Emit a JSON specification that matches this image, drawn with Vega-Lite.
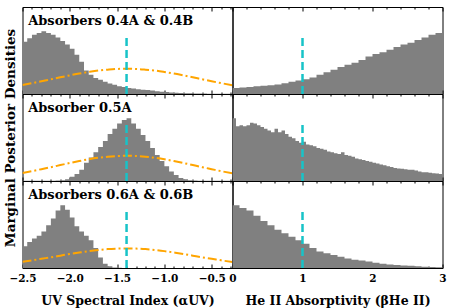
{
  "$schema": "https://vega.github.io/schema/vega-lite/v6.json",
  "padding": {"left": 2.5, "top": 6, "right": 0, "bottom": 0},
  "background": "white",
  "config": {
    "view": {"stroke": "#000000", "strokeWidth": 1},
    "axis": {"labelFont": "DejaVu Serif", "labelFontWeight": "bold", "labelFontSize": 10.5, "labelColor": "#000", "titleFont": "DejaVu Serif", "titleFontWeight": "bold", "titleFontSize": 12.5, "titleColor": "#000", "tickColor": "#000", "grid": false, "domain": false}
  },
  "datasets": {
    "hist": [
      {"p":"1L","x":-2.5,"y":0.60},{"p":"1L","x":-2.45,"y":0.64},{"p":"1L","x":-2.4,"y":0.68},{"p":"1L","x":-2.35,"y":0.70},{"p":"1L","x":-2.3,"y":0.72},{"p":"1L","x":-2.25,"y":0.70},{"p":"1L","x":-2.2,"y":0.68},{"p":"1L","x":-2.15,"y":0.65},{"p":"1L","x":-2.1,"y":0.61},{"p":"1L","x":-2.05,"y":0.57},{"p":"1L","x":-2.0,"y":0.52},{"p":"1L","x":-1.95,"y":0.45},{"p":"1L","x":-1.9,"y":0.37},{"p":"1L","x":-1.85,"y":0.27},{"p":"1L","x":-1.8,"y":0.22},{"p":"1L","x":-1.75,"y":0.185},{"p":"1L","x":-1.7,"y":0.165},{"p":"1L","x":-1.65,"y":0.14},{"p":"1L","x":-1.6,"y":0.12},{"p":"1L","x":-1.55,"y":0.105},{"p":"1L","x":-1.5,"y":0.09},{"p":"1L","x":-1.45,"y":0.08},{"p":"1L","x":-1.4,"y":0.07},{"p":"1L","x":-1.35,"y":0.062},{"p":"1L","x":-1.3,"y":0.055},{"p":"1L","x":-1.25,"y":0.05},{"p":"1L","x":-1.2,"y":0.045},{"p":"1L","x":-1.15,"y":0.04},{"p":"1L","x":-1.1,"y":0.033},{"p":"1L","x":-1.05,"y":0.027},{"p":"1L","x":-1.0,"y":0.022},{"p":"1L","x":-0.95,"y":0.018},{"p":"1L","x":-0.9,"y":0.015},{"p":"1L","x":-0.85,"y":0.012},{"p":"1L","x":-0.8,"y":0.01},{"p":"1L","x":-0.75,"y":0.008},{"p":"1L","x":-0.7,"y":0.007},{"p":"1L","x":-0.65,"y":0.006},{"p":"1L","x":-0.6,"y":0.005},{"p":"1L","x":-0.55,"y":0.004},{"p":"1L","x":-0.5,"y":0.004},{"p":"1L","x":-0.45,"y":0.003},{"p":"1L","x":-0.4,"y":0.003},{"p":"1L","x":-0.35,"y":0.002},{"p":"1L","x":-0.3,"y":0.002},{"p":"1L","x":-0.28,"y":0.002},
      {"p":"2L","x":-2.5,"y":0.002},{"p":"2L","x":-2.45,"y":0.002},{"p":"2L","x":-2.4,"y":0.002},{"p":"2L","x":-2.35,"y":0.003},{"p":"2L","x":-2.3,"y":0.003},{"p":"2L","x":-2.25,"y":0.003},{"p":"2L","x":-2.2,"y":0.004},{"p":"2L","x":-2.15,"y":0.005},{"p":"2L","x":-2.1,"y":0.008},{"p":"2L","x":-2.05,"y":0.02},{"p":"2L","x":-2.0,"y":0.05},{"p":"2L","x":-1.95,"y":0.08},{"p":"2L","x":-1.9,"y":0.13},{"p":"2L","x":-1.85,"y":0.21},{"p":"2L","x":-1.8,"y":0.27},{"p":"2L","x":-1.75,"y":0.33},{"p":"2L","x":-1.7,"y":0.39},{"p":"2L","x":-1.65,"y":0.46},{"p":"2L","x":-1.6,"y":0.54},{"p":"2L","x":-1.55,"y":0.60},{"p":"2L","x":-1.5,"y":0.66},{"p":"2L","x":-1.45,"y":0.70},{"p":"2L","x":-1.4,"y":0.72},{"p":"2L","x":-1.35,"y":0.66},{"p":"2L","x":-1.3,"y":0.60},{"p":"2L","x":-1.25,"y":0.53},{"p":"2L","x":-1.2,"y":0.46},{"p":"2L","x":-1.15,"y":0.38},{"p":"2L","x":-1.1,"y":0.30},{"p":"2L","x":-1.05,"y":0.23},{"p":"2L","x":-1.0,"y":0.17},{"p":"2L","x":-0.95,"y":0.11},{"p":"2L","x":-0.9,"y":0.07},{"p":"2L","x":-0.85,"y":0.035},{"p":"2L","x":-0.8,"y":0.02},{"p":"2L","x":-0.75,"y":0.01},{"p":"2L","x":-0.7,"y":0.006},{"p":"2L","x":-0.65,"y":0.004},{"p":"2L","x":-0.6,"y":0.003},{"p":"2L","x":-0.5,"y":0.002},{"p":"2L","x":-0.28,"y":0.002},
      {"p":"3L","x":-2.5,"y":0.25},{"p":"3L","x":-2.45,"y":0.30},{"p":"3L","x":-2.4,"y":0.34},{"p":"3L","x":-2.35,"y":0.37},{"p":"3L","x":-2.3,"y":0.42},{"p":"3L","x":-2.25,"y":0.49},{"p":"3L","x":-2.2,"y":0.57},{"p":"3L","x":-2.15,"y":0.66},{"p":"3L","x":-2.1,"y":0.72},{"p":"3L","x":-2.05,"y":0.67},{"p":"3L","x":-2.0,"y":0.58},{"p":"3L","x":-1.95,"y":0.48},{"p":"3L","x":-1.9,"y":0.42},{"p":"3L","x":-1.85,"y":0.37},{"p":"3L","x":-1.8,"y":0.32},{"p":"3L","x":-1.75,"y":0.23},{"p":"3L","x":-1.7,"y":0.12},{"p":"3L","x":-1.65,"y":0.05},{"p":"3L","x":-1.6,"y":0.02},{"p":"3L","x":-1.55,"y":0.006},{"p":"3L","x":-1.5,"y":0.002},{"p":"3L","x":-1.45,"y":0.001},{"p":"3L","x":-1.4,"y":0},{"p":"3L","x":-0.28,"y":0},
      {"p":"1R","x":0,"y":0.07},{"p":"1R","x":0.1,"y":0.075},{"p":"1R","x":0.2,"y":0.08},{"p":"1R","x":0.3,"y":0.09},{"p":"1R","x":0.4,"y":0.095},{"p":"1R","x":0.5,"y":0.10},{"p":"1R","x":0.6,"y":0.11},{"p":"1R","x":0.7,"y":0.125},{"p":"1R","x":0.8,"y":0.14},{"p":"1R","x":0.9,"y":0.155},{"p":"1R","x":1.0,"y":0.17},{"p":"1R","x":1.1,"y":0.19},{"p":"1R","x":1.2,"y":0.22},{"p":"1R","x":1.3,"y":0.25},{"p":"1R","x":1.4,"y":0.28},{"p":"1R","x":1.5,"y":0.31},{"p":"1R","x":1.6,"y":0.335},{"p":"1R","x":1.7,"y":0.36},{"p":"1R","x":1.8,"y":0.39},{"p":"1R","x":1.9,"y":0.43},{"p":"1R","x":2.0,"y":0.46},{"p":"1R","x":2.1,"y":0.48},{"p":"1R","x":2.2,"y":0.51},{"p":"1R","x":2.3,"y":0.54},{"p":"1R","x":2.4,"y":0.57},{"p":"1R","x":2.5,"y":0.59},{"p":"1R","x":2.6,"y":0.62},{"p":"1R","x":2.7,"y":0.65},{"p":"1R","x":2.8,"y":0.68},{"p":"1R","x":2.9,"y":0.70},{"p":"1R","x":3.0,"y":0.72},
      {"p":"2R","x":0,"y":0.72},{"p":"2R","x":0.05,"y":0.63},{"p":"2R","x":0.1,"y":0.64},{"p":"2R","x":0.15,"y":0.63},{"p":"2R","x":0.2,"y":0.64},{"p":"2R","x":0.25,"y":0.67},{"p":"2R","x":0.3,"y":0.66},{"p":"2R","x":0.35,"y":0.64},{"p":"2R","x":0.4,"y":0.62},{"p":"2R","x":0.45,"y":0.60},{"p":"2R","x":0.5,"y":0.58},{"p":"2R","x":0.55,"y":0.56},{"p":"2R","x":0.6,"y":0.60},{"p":"2R","x":0.65,"y":0.56},{"p":"2R","x":0.7,"y":0.58},{"p":"2R","x":0.75,"y":0.54},{"p":"2R","x":0.8,"y":0.51},{"p":"2R","x":0.85,"y":0.49},{"p":"2R","x":0.9,"y":0.46},{"p":"2R","x":0.95,"y":0.44},{"p":"2R","x":1.0,"y":0.45},{"p":"2R","x":1.05,"y":0.42},{"p":"2R","x":1.1,"y":0.41},{"p":"2R","x":1.15,"y":0.40},{"p":"2R","x":1.2,"y":0.38},{"p":"2R","x":1.25,"y":0.37},{"p":"2R","x":1.3,"y":0.36},{"p":"2R","x":1.35,"y":0.34},{"p":"2R","x":1.4,"y":0.33},{"p":"2R","x":1.45,"y":0.32},{"p":"2R","x":1.5,"y":0.31},{"p":"2R","x":1.55,"y":0.33},{"p":"2R","x":1.6,"y":0.30},{"p":"2R","x":1.65,"y":0.29},{"p":"2R","x":1.7,"y":0.28},{"p":"2R","x":1.75,"y":0.26},{"p":"2R","x":1.8,"y":0.25},{"p":"2R","x":1.85,"y":0.24},{"p":"2R","x":1.9,"y":0.23},{"p":"2R","x":1.95,"y":0.22},{"p":"2R","x":2.0,"y":0.21},{"p":"2R","x":2.05,"y":0.20},{"p":"2R","x":2.1,"y":0.19},{"p":"2R","x":2.15,"y":0.18},{"p":"2R","x":2.2,"y":0.17},{"p":"2R","x":2.25,"y":0.16},{"p":"2R","x":2.3,"y":0.15},{"p":"2R","x":2.35,"y":0.145},{"p":"2R","x":2.4,"y":0.14},{"p":"2R","x":2.45,"y":0.135},{"p":"2R","x":2.5,"y":0.13},{"p":"2R","x":2.55,"y":0.13},{"p":"2R","x":2.6,"y":0.12},{"p":"2R","x":2.65,"y":0.11},{"p":"2R","x":2.7,"y":0.10},{"p":"2R","x":2.75,"y":0.10},{"p":"2R","x":2.8,"y":0.095},{"p":"2R","x":2.85,"y":0.09},{"p":"2R","x":2.9,"y":0.085},{"p":"2R","x":2.95,"y":0.08},{"p":"2R","x":3.0,"y":0.08},
      {"p":"3R","x":0,"y":0.72},{"p":"3R","x":0.1,"y":0.69},{"p":"3R","x":0.2,"y":0.66},{"p":"3R","x":0.3,"y":0.60},{"p":"3R","x":0.4,"y":0.54},{"p":"3R","x":0.5,"y":0.49},{"p":"3R","x":0.6,"y":0.44},{"p":"3R","x":0.7,"y":0.40},{"p":"3R","x":0.8,"y":0.36},{"p":"3R","x":0.9,"y":0.32},{"p":"3R","x":1.0,"y":0.28},{"p":"3R","x":1.1,"y":0.23},{"p":"3R","x":1.2,"y":0.19},{"p":"3R","x":1.3,"y":0.17},{"p":"3R","x":1.4,"y":0.15},{"p":"3R","x":1.5,"y":0.13},{"p":"3R","x":1.6,"y":0.11},{"p":"3R","x":1.7,"y":0.095},{"p":"3R","x":1.8,"y":0.085},{"p":"3R","x":1.9,"y":0.075},{"p":"3R","x":2.0,"y":0.06},{"p":"3R","x":2.1,"y":0.05},{"p":"3R","x":2.2,"y":0.04},{"p":"3R","x":2.3,"y":0.035},{"p":"3R","x":2.4,"y":0.03},{"p":"3R","x":2.5,"y":0.025},{"p":"3R","x":2.6,"y":0.02},{"p":"3R","x":2.7,"y":0.015},{"p":"3R","x":2.8,"y":0.012},{"p":"3R","x":2.9,"y":0.01},{"p":"3R","x":3.0,"y":0.008}
    ],
    "prior": [
      {"p":"1L","x":-2.5,"y":0.104},{"p":"1L","x":-2.4,"y":0.125},{"p":"1L","x":-2.3,"y":0.146},{"p":"1L","x":-2.2,"y":0.169},{"p":"1L","x":-2.1,"y":0.192},{"p":"1L","x":-2.0,"y":0.214},{"p":"1L","x":-1.9,"y":0.235},{"p":"1L","x":-1.8,"y":0.253},{"p":"1L","x":-1.7,"y":0.269},{"p":"1L","x":-1.6,"y":0.280},{"p":"1L","x":-1.5,"y":0.288},{"p":"1L","x":-1.4,"y":0.29},{"p":"1L","x":-1.3,"y":0.288},{"p":"1L","x":-1.2,"y":0.280},{"p":"1L","x":-1.1,"y":0.269},{"p":"1L","x":-1.0,"y":0.253},{"p":"1L","x":-0.9,"y":0.235},{"p":"1L","x":-0.8,"y":0.214},{"p":"1L","x":-0.7,"y":0.192},{"p":"1L","x":-0.6,"y":0.169},{"p":"1L","x":-0.5,"y":0.146},{"p":"1L","x":-0.4,"y":0.125},{"p":"1L","x":-0.28,"y":0.101},
      {"p":"2L","x":-2.5,"y":0.093},{"p":"2L","x":-2.4,"y":0.113},{"p":"2L","x":-2.3,"y":0.136},{"p":"2L","x":-2.2,"y":0.159},{"p":"2L","x":-2.1,"y":0.183},{"p":"2L","x":-2.0,"y":0.207},{"p":"2L","x":-1.9,"y":0.229},{"p":"2L","x":-1.8,"y":0.250},{"p":"2L","x":-1.7,"y":0.267},{"p":"2L","x":-1.6,"y":0.279},{"p":"2L","x":-1.5,"y":0.287},{"p":"2L","x":-1.4,"y":0.29},{"p":"2L","x":-1.3,"y":0.287},{"p":"2L","x":-1.2,"y":0.279},{"p":"2L","x":-1.1,"y":0.267},{"p":"2L","x":-1.0,"y":0.250},{"p":"2L","x":-0.9,"y":0.229},{"p":"2L","x":-0.8,"y":0.207},{"p":"2L","x":-0.7,"y":0.183},{"p":"2L","x":-0.6,"y":0.159},{"p":"2L","x":-0.5,"y":0.136},{"p":"2L","x":-0.4,"y":0.113},{"p":"2L","x":-0.28,"y":0.089},
      {"p":"3L","x":-2.5,"y":0.072},{"p":"3L","x":-2.4,"y":0.088},{"p":"3L","x":-2.3,"y":0.106},{"p":"3L","x":-2.2,"y":0.123},{"p":"3L","x":-2.1,"y":0.142},{"p":"3L","x":-2.0,"y":0.161},{"p":"3L","x":-1.9,"y":0.178},{"p":"3L","x":-1.8,"y":0.194},{"p":"3L","x":-1.7,"y":0.207},{"p":"3L","x":-1.6,"y":0.217},{"p":"3L","x":-1.5,"y":0.223},{"p":"3L","x":-1.4,"y":0.225},{"p":"3L","x":-1.3,"y":0.223},{"p":"3L","x":-1.2,"y":0.217},{"p":"3L","x":-1.1,"y":0.207},{"p":"3L","x":-1.0,"y":0.194},{"p":"3L","x":-0.9,"y":0.178},{"p":"3L","x":-0.8,"y":0.161},{"p":"3L","x":-0.7,"y":0.142},{"p":"3L","x":-0.6,"y":0.123},{"p":"3L","x":-0.5,"y":0.106},{"p":"3L","x":-0.4,"y":0.088},{"p":"3L","x":-0.28,"y":0.069}
    ],
    "ref": [
      {"c":"L","x":-1.4,"y":0,"y1":0.69},
      {"c":"R","x":1,"y":0,"y1":0.69}
    ],
    "labels": [
      {"p":"1L","x":-2.44,"y":0.795,"t":"Absorbers 0.4A & 0.4B"},
      {"p":"2L","x":-2.44,"y":0.79,"t":"Absorber 0.5A"},
      {"p":"3L","x":-2.44,"y":0.79,"t":"Absorbers 0.6A & 0.6B"}
    ]
  },
  "columns": 2,
  "spacing": 0,
  "bounds": "flush",
  "align": "each",
  "concat": [
    {
      "width": 210, "height": 87,
      "encoding": {"y": {"field": "y", "type": "quantitative", "scale": {"domain": [0, 1], "nice": false}, "axis": null}},
      "layer": [
        {"data": {"name": "hist"}, "transform": [{"filter": "datum.p === '1L'"}],
         "mark": {"type": "area", "interpolate": "step-after", "color": "#808080", "clip": true},
         "encoding": {"x": {"field": "x", "type": "quantitative", "scale": {"domain": [-2.5, -0.28], "nice": false, "zero": false},
           "axis": {"orient": "bottom", "values": [-2.5,-2.4,-2.3,-2.2,-2.1,-2.0,-1.9,-1.8,-1.7,-1.6,-1.5,-1.4,-1.3,-1.2,-1.1,-1.0,-0.9,-0.8,-0.7,-0.6,-0.5,-0.4,-0.3], "labels": false, "title": null,
             "tickSize": {"condition": {"test": "abs(datum.value*2 - round(datum.value*2)) < 0.001", "value": -4}, "value": -2}}}}},
        {"data": {"name": "prior"}, "transform": [{"filter": "datum.p === '1L'"}],
         "mark": {"type": "line", "color": "#FFA500", "strokeWidth": 2, "strokeDash": [9, 3, 2, 3], "interpolate": "monotone", "clip": true},
         "encoding": {"x": {"field": "x", "type": "quantitative", "axis": null}}},
        {"data": {"name": "ref"}, "transform": [{"filter": "datum.c === 'L'"}],
         "mark": {"type": "rule", "color": "#17C3C8", "strokeWidth": 2.5, "strokeDash": [8, 4]},
         "encoding": {"x": {"field": "x", "type": "quantitative",
           "axis": {"orient": "top", "values": [-2.5,-2.4,-2.3,-2.2,-2.1,-2.0,-1.9,-1.8,-1.7,-1.6,-1.5,-1.4,-1.3,-1.2,-1.1,-1.0,-0.9,-0.8,-0.7,-0.6,-0.5,-0.4,-0.3], "labels": false, "title": null,
             "tickSize": {"condition": {"test": "abs(datum.value*2 - round(datum.value*2)) < 0.001", "value": -4}, "value": -2}}},
           "y2": {"field": "y1"}}},
        {"data": {"name": "labels"}, "transform": [{"filter": "datum.p === '1L'"}],
         "mark": {"type": "text", "align": "left", "baseline": "alphabetic", "font": "DejaVu Serif", "fontWeight": "bold", "fontSize": 13, "color": "#000"},
         "encoding": {"x": {"field": "x", "type": "quantitative", "axis": null}, "text": {"field": "t"}}}
      ],
      "resolve": {"axis": {"x": "independent"}}
    },
    {
      "width": 210, "height": 87,
      "encoding": {"y": {"field": "y", "type": "quantitative", "scale": {"domain": [0, 1], "nice": false}, "axis": null}},
      "layer": [
        {"data": {"name": "hist"}, "transform": [{"filter": "datum.p === '1R'"}],
         "mark": {"type": "area", "interpolate": "step-after", "color": "#808080", "clip": true},
         "encoding": {"x": {"field": "x", "type": "quantitative", "scale": {"domain": [0, 3], "nice": false, "zero": false},
           "axis": {"orient": "bottom", "values": [0,0.2,0.4,0.6,0.8,1,1.2,1.4,1.6,1.8,2,2.2,2.4,2.6,2.8,3], "labels": false, "title": null,
             "tickSize": {"condition": {"test": "abs(datum.value - round(datum.value)) < 0.001", "value": -4}, "value": -2}}}}},
        {"data": {"name": "ref"}, "transform": [{"filter": "datum.c === 'R'"}],
         "mark": {"type": "rule", "color": "#17C3C8", "strokeWidth": 2.5, "strokeDash": [8, 4]},
         "encoding": {"x": {"field": "x", "type": "quantitative",
           "axis": {"orient": "top", "values": [0,0.2,0.4,0.6,0.8,1,1.2,1.4,1.6,1.8,2,2.2,2.4,2.6,2.8,3], "labels": false, "title": null,
             "tickSize": {"condition": {"test": "abs(datum.value - round(datum.value)) < 0.001", "value": -4}, "value": -2}}},
           "y2": {"field": "y1"}}}
      ],
      "resolve": {"axis": {"x": "independent"}}
    },
    {
      "width": 210, "height": 87,
      "encoding": {"y": {"field": "y", "type": "quantitative", "scale": {"domain": [0, 1], "nice": false},
        "axis": {"title": "Marginal Posterior Densities", "labels": false, "ticks": false, "domain": false, "grid": false, "titlePadding": 5, "titleFontSize": 13.5}}},
      "layer": [
        {"data": {"name": "hist"}, "transform": [{"filter": "datum.p === '2L'"}],
         "mark": {"type": "area", "interpolate": "step-after", "color": "#808080", "clip": true},
         "encoding": {"x": {"field": "x", "type": "quantitative", "scale": {"domain": [-2.5, -0.28], "nice": false, "zero": false},
           "axis": {"orient": "bottom", "values": [-2.5,-2.4,-2.3,-2.2,-2.1,-2.0,-1.9,-1.8,-1.7,-1.6,-1.5,-1.4,-1.3,-1.2,-1.1,-1.0,-0.9,-0.8,-0.7,-0.6,-0.5,-0.4,-0.3], "labels": false, "title": null,
             "tickSize": {"condition": {"test": "abs(datum.value*2 - round(datum.value*2)) < 0.001", "value": -4}, "value": -2}}}}},
        {"data": {"name": "prior"}, "transform": [{"filter": "datum.p === '2L'"}],
         "mark": {"type": "line", "color": "#FFA500", "strokeWidth": 2, "strokeDash": [9, 3, 2, 3], "interpolate": "monotone", "clip": true},
         "encoding": {"x": {"field": "x", "type": "quantitative", "axis": null}}},
        {"data": {"name": "ref"}, "transform": [{"filter": "datum.c === 'L'"}],
         "mark": {"type": "rule", "color": "#17C3C8", "strokeWidth": 2.5, "strokeDash": [8, 4]},
         "encoding": {"x": {"field": "x", "type": "quantitative",
           "axis": {"orient": "top", "values": [-2.5,-2.4,-2.3,-2.2,-2.1,-2.0,-1.9,-1.8,-1.7,-1.6,-1.5,-1.4,-1.3,-1.2,-1.1,-1.0,-0.9,-0.8,-0.7,-0.6,-0.5,-0.4,-0.3], "labels": false, "title": null,
             "tickSize": {"condition": {"test": "abs(datum.value*2 - round(datum.value*2)) < 0.001", "value": -4}, "value": -2}}},
           "y2": {"field": "y1"}}},
        {"data": {"name": "labels"}, "transform": [{"filter": "datum.p === '2L'"}],
         "mark": {"type": "text", "align": "left", "baseline": "alphabetic", "font": "DejaVu Serif", "fontWeight": "bold", "fontSize": 13, "color": "#000"},
         "encoding": {"x": {"field": "x", "type": "quantitative", "axis": null}, "text": {"field": "t"}}}
      ],
      "resolve": {"axis": {"x": "independent"}}
    },
    {
      "width": 210, "height": 87,
      "encoding": {"y": {"field": "y", "type": "quantitative", "scale": {"domain": [0, 1], "nice": false}, "axis": null}},
      "layer": [
        {"data": {"name": "hist"}, "transform": [{"filter": "datum.p === '2R'"}],
         "mark": {"type": "area", "interpolate": "step-after", "color": "#808080", "clip": true},
         "encoding": {"x": {"field": "x", "type": "quantitative", "scale": {"domain": [0, 3], "nice": false, "zero": false},
           "axis": {"orient": "bottom", "values": [0,0.2,0.4,0.6,0.8,1,1.2,1.4,1.6,1.8,2,2.2,2.4,2.6,2.8,3], "labels": false, "title": null,
             "tickSize": {"condition": {"test": "abs(datum.value - round(datum.value)) < 0.001", "value": -4}, "value": -2}}}}},
        {"data": {"name": "ref"}, "transform": [{"filter": "datum.c === 'R'"}],
         "mark": {"type": "rule", "color": "#17C3C8", "strokeWidth": 2.5, "strokeDash": [8, 4]},
         "encoding": {"x": {"field": "x", "type": "quantitative",
           "axis": {"orient": "top", "values": [0,0.2,0.4,0.6,0.8,1,1.2,1.4,1.6,1.8,2,2.2,2.4,2.6,2.8,3], "labels": false, "title": null,
             "tickSize": {"condition": {"test": "abs(datum.value - round(datum.value)) < 0.001", "value": -4}, "value": -2}}},
           "y2": {"field": "y1"}}}
      ],
      "resolve": {"axis": {"x": "independent"}}
    },
    {
      "width": 210, "height": 87,
      "encoding": {"y": {"field": "y", "type": "quantitative", "scale": {"domain": [0, 1], "nice": false}, "axis": null}},
      "layer": [
        {"data": {"name": "hist"}, "transform": [{"filter": "datum.p === '3L'"}],
         "mark": {"type": "area", "interpolate": "step-after", "color": "#808080", "clip": true},
         "encoding": {"x": {"field": "x", "type": "quantitative", "scale": {"domain": [-2.5, -0.28], "nice": false, "zero": false},
           "axis": {"orient": "bottom", "values": [-2.5,-2.4,-2.3,-2.2,-2.1,-2.0,-1.9,-1.8,-1.7,-1.6,-1.5,-1.4,-1.3,-1.2,-1.1,-1.0,-0.9,-0.8,-0.7,-0.6,-0.5,-0.4,-0.3],
             "title": "UV Spectral Index (αUV)", "labelFlush": false, "labelOverlap": false, "labelPadding": 9, "titlePadding": 9,
             "labelExpr": "abs(datum.value*2 - round(datum.value*2)) < 0.001 ? format(datum.value, '.1f') : ''",
             "tickSize": {"condition": {"test": "abs(datum.value*2 - round(datum.value*2)) < 0.001", "value": -4}, "value": -2}}}}},
        {"data": {"name": "prior"}, "transform": [{"filter": "datum.p === '3L'"}],
         "mark": {"type": "line", "color": "#FFA500", "strokeWidth": 2, "strokeDash": [9, 3, 2, 3], "interpolate": "monotone", "clip": true},
         "encoding": {"x": {"field": "x", "type": "quantitative", "axis": null}}},
        {"data": {"name": "ref"}, "transform": [{"filter": "datum.c === 'L'"}],
         "mark": {"type": "rule", "color": "#17C3C8", "strokeWidth": 2.5, "strokeDash": [8, 4]},
         "encoding": {"x": {"field": "x", "type": "quantitative",
           "axis": {"orient": "top", "values": [-2.5,-2.4,-2.3,-2.2,-2.1,-2.0,-1.9,-1.8,-1.7,-1.6,-1.5,-1.4,-1.3,-1.2,-1.1,-1.0,-0.9,-0.8,-0.7,-0.6,-0.5,-0.4,-0.3], "labels": false, "title": null,
             "tickSize": {"condition": {"test": "abs(datum.value*2 - round(datum.value*2)) < 0.001", "value": -4}, "value": -2}}},
           "y2": {"field": "y1"}}},
        {"data": {"name": "labels"}, "transform": [{"filter": "datum.p === '3L'"}],
         "mark": {"type": "text", "align": "left", "baseline": "alphabetic", "font": "DejaVu Serif", "fontWeight": "bold", "fontSize": 13, "color": "#000"},
         "encoding": {"x": {"field": "x", "type": "quantitative", "axis": null}, "text": {"field": "t"}}}
      ],
      "resolve": {"axis": {"x": "independent"}}
    },
    {
      "width": 210, "height": 87,
      "encoding": {"y": {"field": "y", "type": "quantitative", "scale": {"domain": [0, 1], "nice": false}, "axis": null}},
      "layer": [
        {"data": {"name": "hist"}, "transform": [{"filter": "datum.p === '3R'"}],
         "mark": {"type": "area", "interpolate": "step-after", "color": "#808080", "clip": true},
         "encoding": {"x": {"field": "x", "type": "quantitative", "scale": {"domain": [0, 3], "nice": false, "zero": false},
           "axis": {"orient": "bottom", "values": [0,0.2,0.4,0.6,0.8,1,1.2,1.4,1.6,1.8,2,2.2,2.4,2.6,2.8,3],
             "title": "He II Absorptivity (βHe II)", "labelFlush": false, "labelOverlap": false, "labelPadding": 9, "titlePadding": 9,
             "labelExpr": "abs(datum.value - round(datum.value)) < 0.001 ? format(datum.value, 'd') : ''",
             "tickSize": {"condition": {"test": "abs(datum.value - round(datum.value)) < 0.001", "value": -4}, "value": -2}}}}},
        {"data": {"name": "ref"}, "transform": [{"filter": "datum.c === 'R'"}],
         "mark": {"type": "rule", "color": "#17C3C8", "strokeWidth": 2.5, "strokeDash": [8, 4]},
         "encoding": {"x": {"field": "x", "type": "quantitative",
           "axis": {"orient": "top", "values": [0,0.2,0.4,0.6,0.8,1,1.2,1.4,1.6,1.8,2,2.2,2.4,2.6,2.8,3], "labels": false, "title": null,
             "tickSize": {"condition": {"test": "abs(datum.value - round(datum.value)) < 0.001", "value": -4}, "value": -2}}},
           "y2": {"field": "y1"}}}
      ],
      "resolve": {"axis": {"x": "independent"}}
    }
  ]
}
